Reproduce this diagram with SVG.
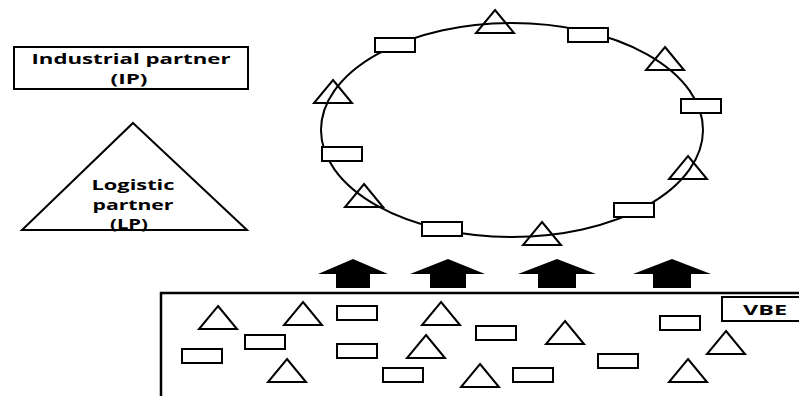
<svg xmlns="http://www.w3.org/2000/svg" width="799" height="396" viewBox="0 0 799 396">
<style>
.s{fill:#fff;stroke:#000;stroke-width:2}
.t{fill:none;stroke:#000;stroke-width:2;stroke-linejoin:miter}
.lbl{font-family:"Open Sans","Liberation Sans",sans-serif;font-weight:bold;fill:#000;text-anchor:middle}
.arr{fill:#000;stroke:none}
</style>
<defs>
<rect id="r" class="s" width="40" height="14"/>
<path id="tr" class="t" d="M0,0 L19,23 L-19,23 Z"/>
</defs>
<rect width="799" height="396" fill="#fff"/>

<g id="ip">
<rect x="14" y="47" width="234" height="42" fill="#fff" stroke="#000" stroke-width="2"/>
<text class="lbl" x="131" y="64" font-size="14" textLength="199" lengthAdjust="spacingAndGlyphs">Industrial partner</text>
<text class="lbl" x="129" y="84" font-size="14" textLength="37" lengthAdjust="spacingAndGlyphs">(IP)</text>
</g>

<g id="lp">
<path d="M133,123 L247,230 L22,230 Z" fill="#fff" stroke="#000" stroke-width="2"/>
<text class="lbl" x="133" y="190" font-size="15" textLength="83" lengthAdjust="spacingAndGlyphs">Logistic</text>
<text class="lbl" x="133" y="210" font-size="15" textLength="81" lengthAdjust="spacingAndGlyphs">partner</text>
<text class="lbl" x="129" y="229" font-size="15" textLength="38" lengthAdjust="spacingAndGlyphs">(LP)</text>
</g>

<g id="network">
<ellipse cx="512" cy="130" rx="191" ry="107" fill="none" stroke="#000" stroke-width="2"/>
<use href="#r" x="375" y="38"/>
<use href="#r" x="568" y="28"/>
<use href="#r" x="681" y="99"/>
<use href="#r" x="614" y="203"/>
<use href="#r" x="322" y="147"/>
<use href="#r" x="422" y="222"/>
<use href="#tr" x="495" y="10"/>
<use href="#tr" x="333" y="80"/>
<use href="#tr" x="665" y="47"/>
<use href="#tr" x="688" y="156"/>
<use href="#tr" x="364" y="184"/>
<use href="#tr" x="542" y="222"/>
</g>

<g id="arrows">
<path class="arr" d="M353,259 L388,274 L370,274 L370,288 L336,288 L336,274 L318,274 Z"/>
<path class="arr" d="M448,259 L485,274 L466,274 L466,288 L430,288 L430,274 L410,274 Z"/>
<path class="arr" d="M557,259 L596,274 L576,274 L576,288 L538,288 L538,274 L518,274 Z"/>
<path class="arr" d="M672,259 L711,274 L691,274 L691,288 L653,288 L653,274 L633,274 Z"/>
</g>

<g id="vbe">
<path d="M161,397 V293 H800" fill="none" stroke="#000" stroke-width="2.5"/>
<rect x="722" y="297" width="80" height="24" fill="#fff" stroke="#000" stroke-width="2"/>
<text class="lbl" x="765" y="315" font-size="14" textLength="44" lengthAdjust="spacingAndGlyphs">VBE</text>
<use href="#tr" x="218" y="306"/>
<use href="#tr" x="303" y="302"/>
<use href="#tr" x="441" y="302"/>
<use href="#tr" x="426" y="335"/>
<use href="#tr" x="287" y="359"/>
<use href="#tr" x="480" y="364"/>
<use href="#tr" x="565" y="321"/>
<use href="#tr" x="726" y="331"/>
<use href="#tr" x="688" y="359"/>
<use href="#r" x="337" y="306"/>
<use href="#r" x="245" y="335"/>
<use href="#r" x="182" y="349"/>
<use href="#r" x="337" y="344"/>
<use href="#r" x="383" y="368"/>
<use href="#r" x="476" y="326"/>
<use href="#r" x="513" y="368"/>
<use href="#r" x="598" y="354"/>
<use href="#r" x="660" y="316"/>
</g>
</svg>
